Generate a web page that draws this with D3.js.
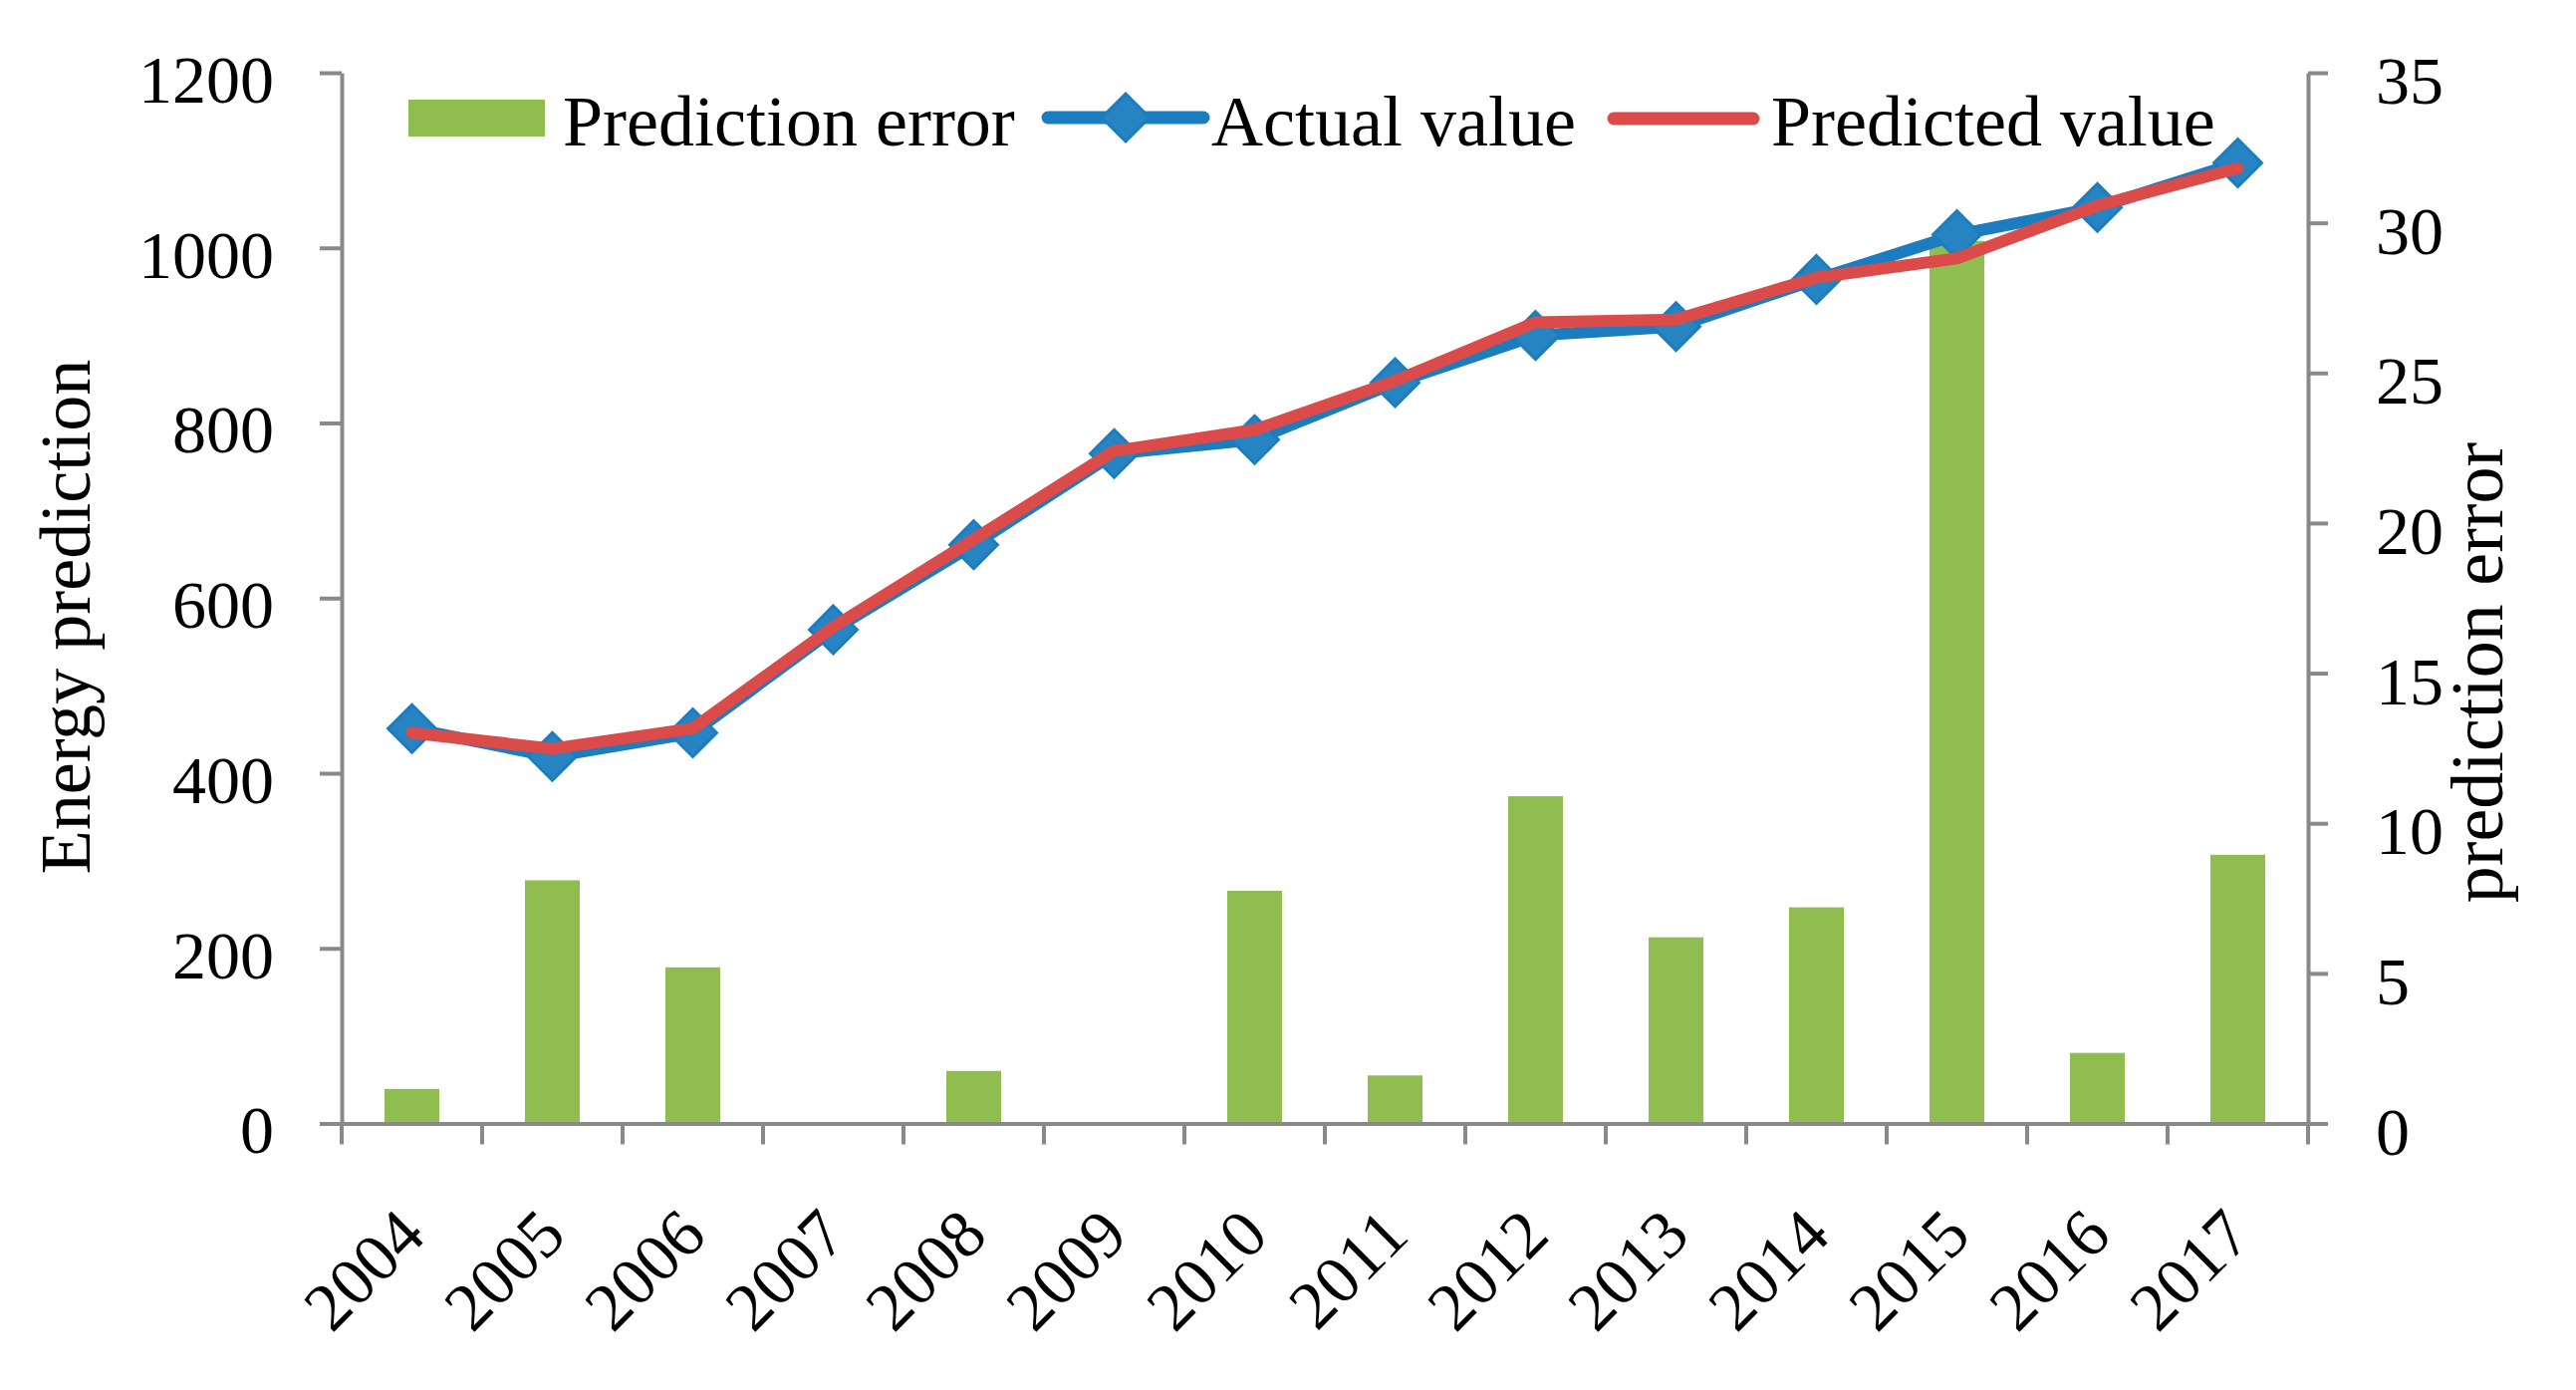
<!DOCTYPE html>
<html>
<head>
<meta charset="utf-8">
<script src="https://cdn.jsdelivr.net/npm/d3@7"></script>
<style>
  html, body { margin: 0; padding: 0; background: #fff; }
  svg { display: block; }
  text { font-family: "Liberation Serif", "Times New Roman", serif; fill: #000; }
</style>
</head>
<body>
<svg id="chart" width="2586" height="1395"></svg>
<script>
const years = ["2004","2005","2006","2007","2008","2009","2010","2011","2012","2013","2014","2015","2016","2017"];
const predictionError = [1.15, 8.1, 5.2, 0, 1.75, 0, 7.75, 1.6, 10.9, 6.2, 7.2, 29.4, 2.35, 8.95];
const actualValue = [451, 419, 446, 564, 661, 765, 781, 846, 900, 910, 964, 1015, 1046, 1097];
const predictedValue = [446, 428, 451, 567, 667, 768, 792, 848, 915, 918, 966, 988, 1048, 1091];
const leftTicks = [0, 200, 400, 600, 800, 1000, 1200];
const rightTicks = [0, 5, 10, 15, 20, 25, 30, 35];
const seriesNames = ["Prediction error", "Actual value", "Predicted value"];
const axisTitles = { left: "Energy prediction", right: "prediction error" };

const W = 2586, H = 1395;
const margin = { left: 343, right: 269, top: 73, bottom: 1395 - 1127.5 };
const plotW = W - margin.left - margin.right;
const plotH = H - margin.top - margin.bottom;

const colors = { bar: "#8fbd50", actual: "#1b7dc0", actualFill: "#2784c3", predicted: "#db4b4a", axis: "#898989" };

const svg = d3.select("#chart");
const g = svg.append("g").attr("transform", `translate(${margin.left},${margin.top})`);

const x = d3.scaleBand().domain(years).range([0, plotW]).padding(0);
const yL = d3.scaleLinear().domain([0, 1200]).range([plotH, 0]);
const yR = d3.scaleLinear().domain([0, 35]).range([plotH, 0]);

// Bars
const barW = x.bandwidth() * 0.39;
g.append("g").selectAll("rect").data(years).join("rect")
  .attr("x", d => x(d) + x.bandwidth() / 2 - barW / 2)
  .attr("y", (d, i) => yR(predictionError[i]))
  .attr("width", barW)
  .attr("height", (d, i) => plotH - yR(predictionError[i]))
  .attr("fill", colors.bar);

// Axes
function styleAxis(sel) {
  sel.selectAll("path, line").attr("stroke", colors.axis).attr("stroke-width", 4);
  sel.selectAll("text").attr("font-size", 68).attr("font-family", '"Liberation Serif", "Times New Roman", serif').attr("fill", "#000");
}
const axL = g.append("g")
  .call(d3.axisLeft(yL).tickValues(leftTicks).tickSize(22).tickSizeOuter(0).tickPadding(46).tickFormat(d3.format("d")));
styleAxis(axL);
axL.selectAll("text").attr("dy", "0.43em");

const axR = g.append("g").attr("transform", `translate(${plotW},0)`)
  .call(d3.axisRight(yR).tickValues(rightTicks).tickSize(20).tickSizeOuter(0).tickPadding(48).tickFormat(d3.format("d")));
styleAxis(axR);
axR.selectAll("text").attr("dy", "0.45em");

const axX = g.append("g").attr("transform", `translate(0,${plotH})`)
  .call(d3.axisBottom(x).tickSize(0).tickSizeOuter(0).tickFormat(""));
styleAxis(axX);
// boundary ticks
const bounds = years.map(d => x(d)).concat([plotW]);
axX.append("g").selectAll("line").data(bounds).join("line")
  .attr("x1", d => d).attr("x2", d => d).attr("y1", 0).attr("y2", 21)
  .attr("stroke", colors.axis).attr("stroke-width", 4);
// rotated labels
axX.append("g").selectAll("text").data(years).join("text")
  .attr("transform", d => `translate(${x(d) + x.bandwidth() / 2 + 16},${115}) rotate(-45)`)
  .attr("text-anchor", "end")
  .attr("font-size", 68)
  .text(d => d);

// Lines
const lineGen = arr => d3.line()
  .x((d, i) => x(years[i]) + x.bandwidth() / 2)
  .y(d => yL(d))(arr);

g.append("path").attr("d", lineGen(actualValue))
  .attr("fill", "none").attr("stroke", colors.actual).attr("stroke-width", 12)
  .attr("stroke-linejoin", "round").attr("stroke-linecap", "round");

const diamond = d3.symbol().type(d3.symbolDiamond2).size(54 * 54 / 2);
g.append("g").selectAll("path").data(actualValue).join("path")
  .attr("d", diamond)
  .attr("transform", (d, i) => `translate(${x(years[i]) + x.bandwidth() / 2},${yL(d)})`)
  .attr("fill", colors.actualFill).attr("stroke", colors.actual).attr("stroke-width", 3);

g.append("path").attr("d", lineGen(predictedValue))
  .attr("fill", "none").attr("stroke", colors.predicted).attr("stroke-width", 12)
  .attr("stroke-linejoin", "round").attr("stroke-linecap", "round");

// Axis titles
svg.append("text")
  .attr("transform", `translate(90,619) rotate(-90)`)
  .attr("text-anchor", "middle").attr("font-size", 72)
  .text(axisTitles.left);
svg.append("text")
  .attr("transform", `translate(2512,675) rotate(-90)`)
  .attr("text-anchor", "middle").attr("font-size", 74)
  .text(axisTitles.right);

// Legend
const lg = svg.append("g");
lg.append("rect").attr("x", 410).attr("y", 100).attr("width", 137).attr("height", 37).attr("fill", colors.bar);
lg.append("text").attr("x", 565).attr("y", 146).attr("font-size", 72).text(seriesNames[0]);

lg.append("line").attr("x1", 1052).attr("x2", 1208).attr("y1", 118).attr("y2", 118)
  .attr("stroke", colors.actual).attr("stroke-width", 13).attr("stroke-linecap", "round");
lg.append("path").attr("d", diamond).attr("transform", "translate(1130,118)")
  .attr("fill", colors.actualFill).attr("stroke", colors.actual).attr("stroke-width", 3);
lg.append("text").attr("x", 1216).attr("y", 146).attr("font-size", 72).text(seriesNames[1]);

lg.append("line").attr("x1", 1620).attr("x2", 1760).attr("y1", 119).attr("y2", 119)
  .attr("stroke", colors.predicted).attr("stroke-width", 13).attr("stroke-linecap", "round");
lg.append("text").attr("x", 1778).attr("y", 146).attr("font-size", 72).text(seriesNames[2]);
</script>
</body>
</html>
